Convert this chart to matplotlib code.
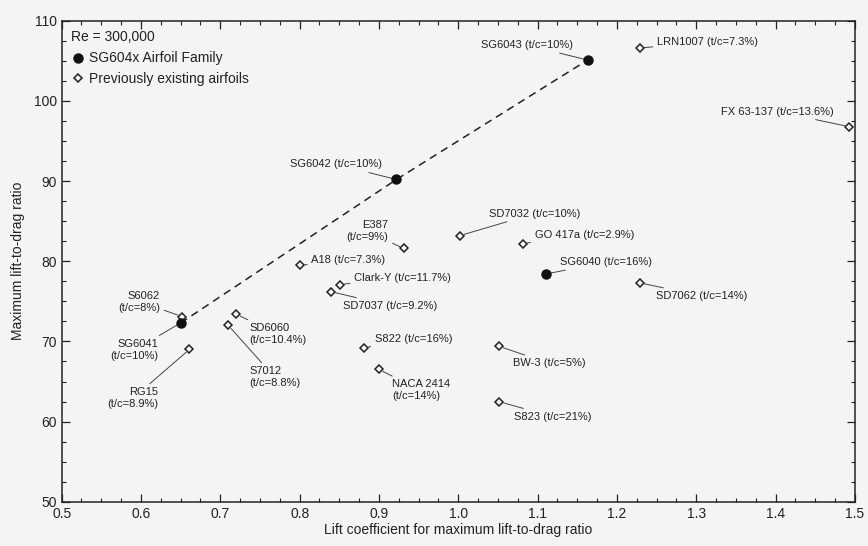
import matplotlib
matplotlib.use("Agg")
import matplotlib.pyplot as plt
from matplotlib.ticker import MultipleLocator

plt.rcParams['font.family'] = ['Liberation Sans', 'DejaVu Sans']

# SG604x family (filled circles)
sg_names = ['SG6040 (t/c=16%)', 'SG6041\n(t/c=10%)', 'SG6042 (t/c=10%)', 'SG6043 (t/c=10%)']
sg_cl = [1.11, 0.65, 0.922, 1.163]
sg_ld = [78.4, 72.3, 90.2, 105.1]

# previously existing airfoils (open diamonds)
old_names = ['LRN1007 (t/c=7.3%)', 'FX 63-137 (t/c=13.6%)', 'SD7032 (t/c=10%)', 'E387\n(t/c=9%)',
             'A18 (t/c=7.3%)', 'Clark-Y (t/c=11.7%)', 'SD7037 (t/c=9.2%)', 'GO 417a (t/c=2.9%)',
             'SD7062 (t/c=14%)', 'BW-3 (t/c=5%)', 'S823 (t/c=21%)', 'S822 (t/c=16%)',
             'NACA 2414\n(t/c=14%)', 'S6062\n(t/c=8%)', 'RG15\n(t/c=8.9%)', 'SD6060\n(t/c=10.4%)',
             'S7012\n(t/c=8.8%)']
old_cl = [1.229, 1.492, 1.002, 0.931, 0.801, 0.851, 0.84, 1.081, 1.229, 1.051, 1.051, 0.881,
          0.90, 0.652, 0.661, 0.72, 0.71]
old_ld = [106.6, 96.8, 83.2, 81.6, 79.5, 77.1, 76.2, 82.2, 77.3, 69.4, 62.5, 69.2,
          66.5, 73.1, 69.0, 73.4, 72.0]

# label offsets (pixels) and alignment
sg_off = [(14, 12, 'left'), (-22, -27, 'right'), (-14, 15, 'right'), (-15, 15, 'right')]
old_off = [(17, 6, 'left'), (-15, 15, 'right'), (29, 22, 'left'), (-15, 17, 'right'),
           (11, 5, 'left'), (14, 7, 'left'), (12, -14, 'left'), (12, 9, 'left'),
           (16, -13, 'left'), (14, -17, 'left'), (15, -15, 'left'), (11, 9, 'left'),
           (13, -21, 'left'), (-22, 15, 'right'), (-31, -49, 'right'), (13, -20, 'left'),
           (21, -52, 'left')]

bg = '#f4f4f2'
ink = '#222222'

fig = plt.figure(figsize=(8.68, 5.46), dpi=100, facecolor=bg)
ax = fig.add_axes([0.071, 0.081, 0.914, 0.881], facecolor=bg)

# dashed line through the SG604x family (SG6041 -> SG6042 -> SG6043)
order = sorted(range(1, 4), key=lambda i: sg_cl[i])
ax.plot([sg_cl[i] for i in order], [sg_ld[i] for i in order], ls=(0, (5, 3.5)),
        color=ink, lw=1.1, zorder=2)

ax.plot(old_cl, old_ld, ls='none', marker='D', ms=4, mfc=bg, mec=ink, mew=1.1,
        zorder=3, label='Previously existing airfoils')
ax.plot(sg_cl, sg_ld, ls='none', marker='o', ms=6.5, color='#111111', zorder=4,
        label='SG604x Airfoil Family')

def label(names, xs, ys, offs):
    for n, x, y, (dx, dy, ha) in zip(names, xs, ys, offs):
        ax.annotate(n, (x, y), xytext=(dx, dy), textcoords='offset pixels',
                    ha=ha, va='center', fontsize=8, color=ink, linespacing=1.25,
                    multialignment=ha,
                    arrowprops=dict(arrowstyle='-', lw=0.7, color='#444444',
                                    shrinkA=1, shrinkB=3))

label(sg_names, sg_cl, sg_ld, sg_off)
label(old_names, old_cl, old_ld, old_off)

ax.set_xlim(0.5, 1.5)
ax.set_ylim(50, 110)
ax.xaxis.set_major_locator(MultipleLocator(0.1))
ax.xaxis.set_minor_locator(MultipleLocator(0.025))
ax.yaxis.set_major_locator(MultipleLocator(10))
ax.yaxis.set_minor_locator(MultipleLocator(2.5))
ax.tick_params(which='both', direction='in', top=True, right=True, colors=ink,
               labelsize=10)
ax.tick_params(which='major', length=6, width=0.9)
ax.tick_params(which='minor', length=3, width=0.8)
for s in ax.spines.values():
    s.set_color(ink)
    s.set_linewidth(1.1)

ax.set_xlabel('Lift coefficient for maximum lift-to-drag ratio', fontsize=10,
              color=ink, labelpad=2)
ax.set_ylabel('Maximum lift-to-drag ratio', fontsize=10, color=ink, labelpad=6)

handles, labels = ax.get_legend_handles_labels()
leg = ax.legend(handles[::-1], labels[::-1], title='Re = 300,000', loc='upper left',
                frameon=False, fontsize=10, title_fontsize=10, alignment='left',
                handletextpad=0.3, handlelength=1.0, borderaxespad=0.3,
                labelspacing=0.5)
for t in leg.get_texts():
    t.set_color(ink)
leg.get_title().set_color(ink)

fig.savefig('out.png', dpi=100, facecolor=bg)
